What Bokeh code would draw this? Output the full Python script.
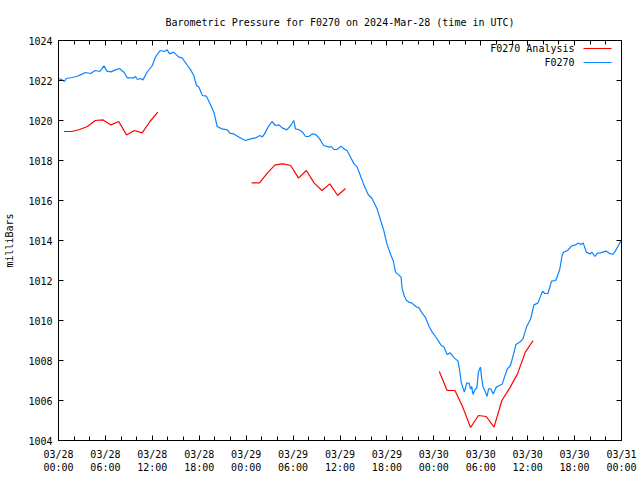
import math
from bokeh.plotting import figure
from bokeh.models import FixedTicker, LinearAxis, Range1d, Label, BoxAnnotation
from bokeh.embed import file_html
from bokeh.resources import INLINE

# ---- data (time in hours since 2024-03-28 00:00 UTC) ----
obs_hours = [0.0, 0.4, 0.75, 1.0, 1.75, 2.3, 2.8, 3.45, 4.1, 4.7, 5.3, 5.8, 6.2, 6.7, 7.3, 7.8,
             8.4, 8.8, 9.6, 9.85, 10.1, 10.5, 10.8, 11.3, 12.0, 12.4, 13.0, 13.5, 13.9, 14.2,
             14.7, 15.4, 15.8, 16.5, 16.9, 17.3, 17.65, 17.95, 18.4, 18.9, 19.4, 19.9, 20.3,
             20.9, 21.6, 21.9, 22.4, 23.06, 23.4, 23.9, 24.55, 25.2, 25.75, 26.05, 26.35, 26.8,
             27.3, 27.75, 28.2, 28.6, 29.2, 29.7, 30.1, 30.3, 30.7, 31.2, 31.6, 32.0, 32.45,
             32.9, 33.4, 33.9, 34.6, 34.9, 35.2, 35.6, 36.15, 36.5, 36.9, 37.3, 37.8, 38.2,
             38.6, 39.0, 39.6, 40.1, 40.75, 41.2, 41.6, 42.0, 42.4, 42.8, 43.1, 43.5, 43.8,
             43.95, 44.2, 44.5, 44.8, 45.2, 45.7, 46.1, 46.5, 46.9, 47.4, 47.8, 48.2, 48.6,
             48.95, 49.3, 49.7, 50.1, 50.6, 51.1, 51.3, 51.5, 51.7, 51.9, 52.2, 52.5, 52.7,
             52.85, 53.0, 53.3, 53.5, 53.7, 53.97, 54.1, 54.3, 54.6, 54.8, 55.0, 55.3, 55.6,
             56.0, 56.4, 56.75, 57.0, 57.4, 57.8, 58.2, 58.5, 59.1, 59.4, 59.85, 60.4, 60.8,
             61.3, 61.6, 61.9, 62.2, 62.6, 63.05, 63.6, 64.1, 64.4, 64.6, 65.1, 65.6, 66.1,
             66.5, 66.8, 67.1, 67.5, 68.0, 68.2, 68.6, 68.9, 69.3, 70.0, 70.4, 70.9, 71.2,
             71.6, 71.85, 72.0]
obs_mb = [1022.1, 1022.05, 1021.95, 1022.1, 1022.15, 1022.2, 1022.28, 1022.4, 1022.35, 1022.5,
          1022.45, 1022.73, 1022.47, 1022.43, 1022.53, 1022.6, 1022.4, 1022.13, 1022.13,
          1022.2, 1022.05, 1022.1, 1022.03, 1022.4, 1022.75, 1023.17, 1023.5, 1023.45,
          1023.53, 1023.33, 1023.42, 1023.17, 1023.13, 1022.75, 1022.53, 1022.25, 1021.75,
          1021.67, 1021.25, 1021.22, 1020.83, 1020.37, 1019.7, 1019.58, 1019.53, 1019.37,
          1019.33, 1019.17, 1019.1, 1019.0, 1019.08, 1019.13, 1019.25, 1019.17, 1019.33,
          1019.67, 1019.95, 1019.75, 1019.78, 1019.63, 1019.53, 1019.75, 1020.0, 1019.58,
          1019.55, 1019.42, 1019.2, 1019.2, 1019.33, 1019.3, 1019.08, 1018.75, 1018.67,
          1018.7, 1018.55, 1018.55, 1018.72, 1018.58, 1018.5, 1018.2, 1017.83, 1017.67,
          1017.25, 1016.83, 1016.3, 1016.1, 1015.58, 1015.0, 1014.5, 1013.83, 1013.37,
          1013.0, 1012.42, 1012.28, 1012.17, 1011.58, 1011.25, 1011.0, 1010.92, 1010.87,
          1010.7, 1010.63, 1010.37, 1010.17, 1009.7, 1009.42, 1009.2, 1008.97, 1008.75,
          1008.67, 1008.3, 1008.38, 1008.13, 1007.97, 1007.5, 1006.92, 1006.67, 1006.42,
          1006.87, 1006.87, 1006.58, 1006.7, 1006.3, 1006.58, 1006.63, 1007.42, 1007.67,
          1007.17, 1006.67, 1006.42, 1006.2, 1006.58, 1006.58, 1006.33, 1006.67, 1006.75,
          1006.83, 1007.13, 1007.58, 1007.75, 1008.33, 1008.8, 1008.95, 1009.08, 1009.67,
          1010.1, 1010.78, 1010.87, 1011.17, 1011.47, 1011.35, 1011.35, 1011.97, 1012.0,
          1012.55, 1013.25, 1013.42, 1013.5, 1013.72, 1013.78, 1013.87, 1013.8, 1013.88,
          1013.42, 1013.33, 1013.42, 1013.2, 1013.37, 1013.38, 1013.47, 1013.37, 1013.3,
          1013.47, 1013.75, 1013.92, 1014.0]

ana1_hours = [0.7, 1.7, 2.7, 3.7, 4.7, 5.7, 6.7, 7.7, 8.7, 9.7, 10.7, 11.7, 12.7]
ana1_mb = [1019.45, 1019.45, 1019.55, 1019.7, 1020.0, 1020.03, 1019.78, 1019.95, 1019.28,
           1019.5, 1019.38, 1019.95, 1020.42]
ana2_hours = [24.7, 25.7, 26.7, 27.7, 28.7, 29.7, 30.7, 31.7, 32.7, 33.7, 34.7, 35.7, 36.7]
ana2_mb = [1016.88, 1016.88, 1017.37, 1017.78, 1017.83, 1017.75, 1017.12, 1017.5, 1016.87,
           1016.5, 1016.83, 1016.25, 1016.6]
ana3_hours = [48.7, 49.7, 50.7, 51.7, 52.7, 53.7, 54.7, 55.7, 56.7, 57.7, 58.7, 59.7, 60.7]
ana3_mb = [1007.45, 1006.5, 1006.5, 1005.67, 1004.65, 1005.25, 1005.2, 1004.67, 1006.0,
           1006.62, 1007.33, 1008.42, 1009.0]

x_tick_hours = [0, 6, 12, 18, 24, 30, 36, 42, 48, 54, 60, 66, 72]
x_tick_labels = ["03/28\n00:00", "03/28\n06:00", "03/28\n12:00", "03/28\n18:00",
                 "03/29\n00:00", "03/29\n06:00", "03/29\n12:00", "03/29\n18:00",
                 "03/30\n00:00", "03/30\n06:00", "03/30\n12:00", "03/30\n18:00",
                 "03/31\n00:00"]
x_minor_hours = list(range(0, 73, 2))
y_ticks = [1004, 1006, 1008, 1010, 1012, 1014, 1016, 1018, 1020, 1022, 1024]

title_text = "Barometric Pressure for F0270 on 2024-Mar-28 (time in UTC)"
y_label = "milliBars"
series_names = ["F0270 Analysis", "F0270"]
series_colors = ["#ff0000", "#0a84ff"]

FONT = "DejaVu Sans Mono"
FS = "10px"

# analysis series with gaps
nan = float("nan")
ana_hours = ana1_hours + [nan] + ana2_hours + [nan] + ana3_hours
ana_mb = ana1_mb + [nan] + ana2_mb + [nan] + ana3_mb

p = figure(width=640, height=480, x_range=Range1d(0, 72), y_range=Range1d(1004, 1024),
           output_backend="svg", toolbar_location=None, title=title_text,
           min_border_left=58, min_border_right=19, min_border_top=40, min_border_bottom=40)
p.background_fill_color = "white"
p.border_fill_color = "white"
p.outline_line_color = "black"
p.outline_line_width = 1
p.xgrid.visible = False
p.ygrid.visible = False

p.title.text_font = FONT
p.title.text_font_size = FS
p.title.text_font_style = "normal"
p.title.text_color = "black"
p.title.align = "center"
p.title.standoff = 25

p.line(ana_hours, ana_mb, line_color=series_colors[0], line_width=1.2)
p.line(obs_hours, obs_mb, line_color=series_colors[1], line_width=1.2)

xt = FixedTicker(ticks=x_tick_hours, minor_ticks=x_minor_hours)
yt = FixedTicker(ticks=y_ticks, minor_ticks=[])

def style_axis(ax, ticker, show_labels):
    ax.ticker = ticker
    ax.axis_line_color = "black"
    ax.major_tick_line_color = "black"
    ax.minor_tick_line_color = "black"
    ax.major_tick_in = 5
    ax.major_tick_out = 0
    ax.minor_tick_in = 4
    ax.minor_tick_out = 0
    ax.major_label_text_font = FONT
    ax.major_label_text_font_size = FS if show_labels else "0px"
    ax.major_label_text_color = "black"
    ax.major_label_standoff = 6 if show_labels else 0

style_axis(p.xaxis[0], xt, True)
p.xaxis[0].major_label_overrides = {h: lab for h, lab in zip(x_tick_hours, x_tick_labels)}
p.xaxis[0].major_label_standoff = 8
style_axis(p.yaxis[0], yt, True)
p.yaxis[0].axis_label = y_label
p.yaxis[0].axis_label_text_font = FONT
p.yaxis[0].axis_label_text_font_size = FS
p.yaxis[0].axis_label_text_font_style = "normal"
p.yaxis[0].axis_label_text_color = "black"
p.yaxis[0].axis_label_standoff = 10

top_ax = LinearAxis()
style_axis(top_ax, xt, False)
top_ax.major_label_overrides = {h: "" for h in x_tick_hours}
p.add_layout(top_ax, "above")
right_ax = LinearAxis()
style_axis(right_ax, yt, False)
right_ax.major_label_overrides = {t: "" for t in y_ticks}
p.add_layout(right_ax, "right")

# legend (gnuplot style: label then line sample), in screen units relative to frame
for i, (name, col) in enumerate(zip(series_names, series_colors)):
    yy = 392 - 14 * i
    p.add_layout(Label(x=516, y=yy, x_units="screen", y_units="screen", text=name,
                       text_font=FONT, text_font_size=FS, text_align="right",
                       text_baseline="middle", text_color="black"))
    p.add_layout(BoxAnnotation(left=525, right=553, bottom=yy - 0.6, top=yy + 0.6,
                               left_units="screen", right_units="screen",
                               bottom_units="screen", top_units="screen",
                               fill_color=col, fill_alpha=1.0, line_color=None))

open("out.html", "w").write(file_html(p, INLINE))
